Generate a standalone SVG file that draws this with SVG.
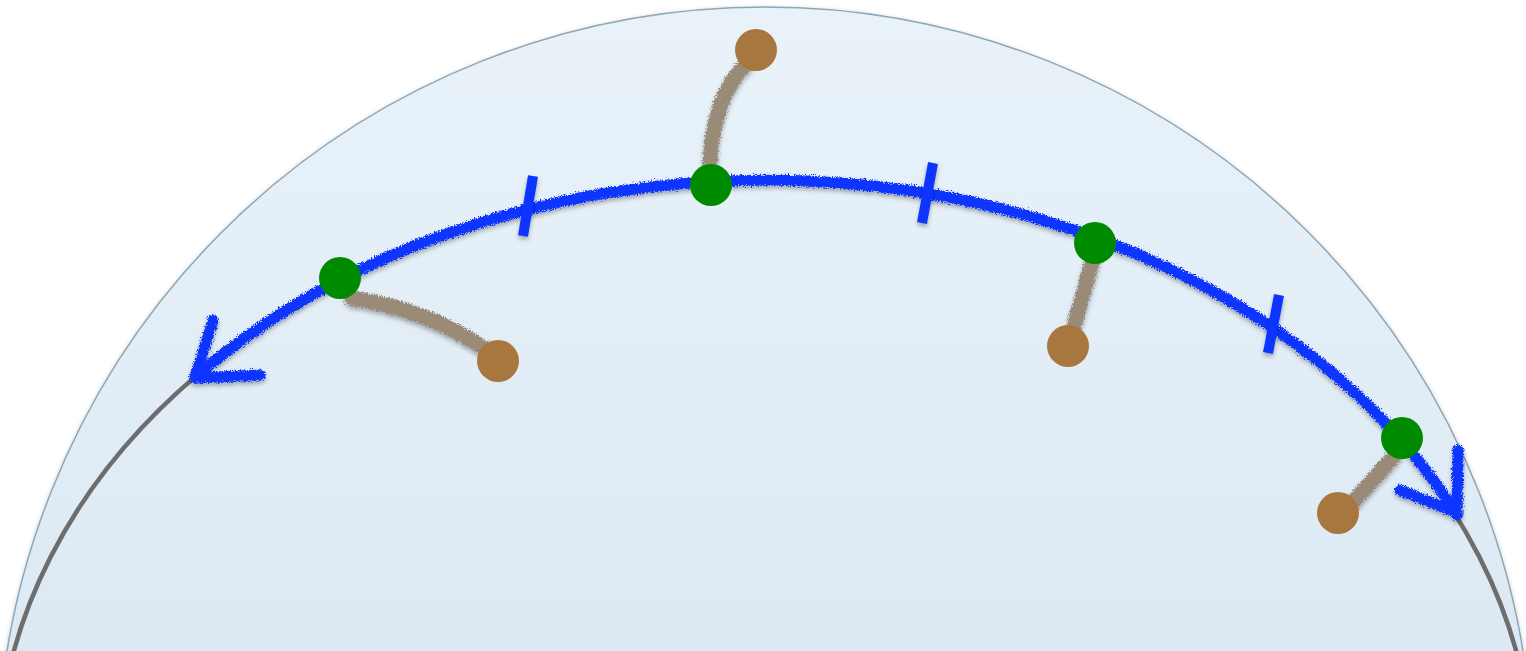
<svg xmlns="http://www.w3.org/2000/svg" width="1526" height="651" viewBox="0 0 1526 651">
<style>
.blue{fill:none;stroke:#0a36ff;stroke-width:11;stroke-linecap:round;stroke-linejoin:round}
.tick{stroke:#0a36ff;stroke-width:10;stroke-linecap:butt}
.conn{fill:none;stroke:#9a8a78;stroke-width:15;stroke-linecap:round}
.green{fill:#008a00}
.brown{fill:#a8773f}
</style>
<defs>
<linearGradient id="domeFill" x1="0" y1="0" x2="0" y2="1">
<stop offset="0" stop-color="#e9f2f9"/>
<stop offset="1" stop-color="#cadded"/>
</linearGradient>
<filter id="domeShadow" filterUnits="userSpaceOnUse" x="0" y="0" width="1526" height="651">
<feDropShadow dx="0" dy="1" stdDeviation="2" flood-color="#000" flood-opacity="0.2"/>
</filter>
<filter id="rough" filterUnits="userSpaceOnUse" x="0" y="0" width="1526" height="651">
<feTurbulence type="fractalNoise" baseFrequency="0.7" numOctaves="2" seed="4" result="n"/>
<feDisplacementMap in="SourceGraphic" in2="n" scale="7" xChannelSelector="R" yChannelSelector="G" result="d"/>
<feDropShadow in="d" dx="0" dy="3" stdDeviation="2" flood-color="#000" flood-opacity="0.3"/>
</filter>
<filter id="shadow" filterUnits="userSpaceOnUse" x="0" y="0" width="1526" height="651">
<feDropShadow dx="0" dy="3" stdDeviation="2" flood-color="#000" flood-opacity="0.3"/>
</filter>
</defs>
<rect width="1526" height="651" fill="#ffffff"/>
<g id="sphere">
<circle cx="765" cy="775" r="768" fill="url(#domeFill)" stroke="#8ea7b7" stroke-width="1.5" filter="url(#domeShadow)"/>
</g>
<g id="great-circle">
<ellipse cx="765" cy="775" rx="768" ry="594" fill="none" stroke="#6e6d6e" stroke-width="4.5"/>
</g>
<g id="connectors">
<path class="conn" d="M710 162 Q714 95 746 64" filter="url(#rough)"/>
<path class="conn" d="M352 298 Q430 310 490 352" filter="url(#rough)"/>
<path class="conn" d="M1093 258 L1073 330" filter="url(#rough)"/>
<path class="conn" d="M1395 455 L1352 503" filter="url(#rough)"/>
<g id="transport-arc" filter="url(#rough)">
<path class="blue" d="M195 377 A768 594 0 0 1 1457 515"/>
<path class="blue" d="M213 320 L195 378 L260 375"/>
<path class="blue" d="M1458 450 L1457 513 L1400 490"/>
</g>
</g>
<g id="ticks" filter="url(#shadow)">
<line class="tick" x1="533" y1="176" x2="523" y2="236"/>
<line class="tick" x1="933" y1="163" x2="922" y2="223"/>
<line class="tick" x1="1279" y1="295" x2="1268" y2="353"/>
</g>
<g id="node-g1"><circle class="green" cx="340" cy="278" r="21"/></g>
<g id="node-g2"><circle class="green" cx="711" cy="185" r="21"/></g>
<g id="node-g3"><circle class="green" cx="1095" cy="243" r="21"/></g>
<g id="node-g4"><circle class="green" cx="1402" cy="438" r="21"/></g>
<g id="node-b1"><circle class="brown" cx="756" cy="50" r="21"/></g>
<g id="node-b2"><circle class="brown" cx="498" cy="361" r="21"/></g>
<g id="node-b3"><circle class="brown" cx="1068" cy="346" r="21"/></g>
<g id="node-b4"><circle class="brown" cx="1338" cy="513" r="21"/></g>
</svg>
